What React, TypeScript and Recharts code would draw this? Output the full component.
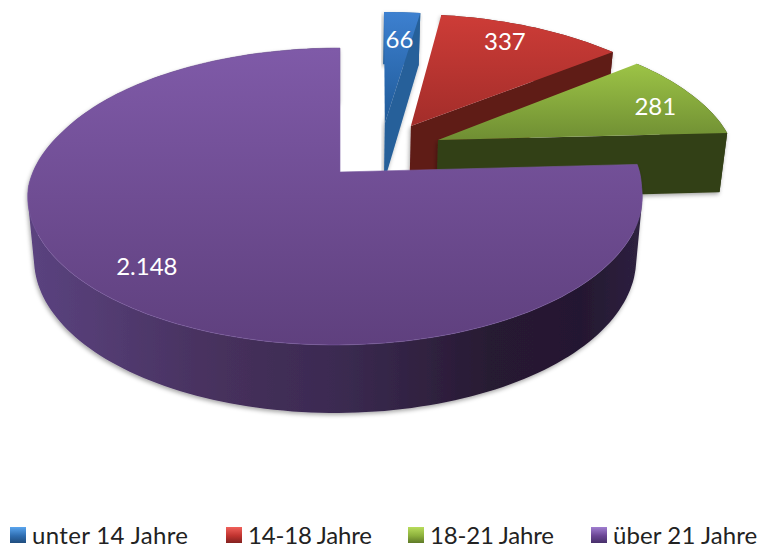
import { PieChart, Pie, Legend } from "recharts"

const AGE_GROUPS = ["unter 14 Jahre", "14-18 Jahre", "18-21 Jahre", "über 21 Jahre"]
const COUNTS = [66, 337, 281, 2148]
const COUNT_LABELS = ["66", "337", "281", "2.148"]

const chartData = AGE_GROUPS.map((name, i) => ({ name, value: COUNTS[i], label: COUNT_LABELS[i] }))

// look of each slice: top face gradient, wall colour(s), legend marker
const TOP_FACE = [
  ["#3d80d0", "#1f5a98"],
  ["#cd3c37", "#a32d2a"],
  ["#9dc446", "#6f8e33"],
  ["#7f5aa8", "#5f407e"],
]
const WALL_FACE = ["#27609a", "#5e1b19", "#333f17", "#3a2a50"]
const MARKER = [
  ["#5aa5ee", "#2f6db0", "#204d7e"],
  ["#f0605a", "#c0332f", "#832220"],
  ["#b8dc5c", "#8cb03c", "#5f7a28"],
  ["#a07ed0", "#6a4594", "#47306a"],
]
const LEGEND_SPACING = [0.35, -0.2, -0.2, 0.1]

// slice explosion on the pie plane (unit = radius), plus fine-tuning in px
const EXPLODE = [
  [0.177, -0.355],
  [0.26, -0.336],
  [0.3346, -0.2299],
  [0, 0],
]
const APEX_SHIFT = [-6, -4, 0, 0]
const LABEL_RADIUS = [0.74, 0.8, 0.85, 0.82]
const LABEL_SHIFT = [
  [0, 0],
  [-6, -4],
  [0, 4],
  [-3, -2],
]

// perspective of the tilted pie
const TILT = 0.475
const PERSP = 0.165
const RAD = Math.PI / 180

type Pt = { x: number; y: number; w: number }

function project(cx: number, cy: number, r: number, u: number, v: number): Pt {
  const w = 1 - PERSP * v
  return { x: cx + (r * u) / w, y: cy + (r * TILT * v) / w, w }
}

// bottom rim sits lower and a bit narrower than the top rim
function drop(cx: number, p: Pt): Pt {
  return { x: cx + (p.x - cx) * 0.98, y: p.y + 68 - 41 * (p.w - 0.835), w: p.w }
}

function toPath(pts: { x: number; y: number }[]) {
  return pts.map((p, i) => `${i ? "L" : "M"}${p.x.toFixed(1)} ${p.y.toFixed(1)}`).join(" ") + " Z"
}

// outer wall as quads, all wound the same way so overlaps don't cancel out
function wallPath(top: Pt[], bottom: Pt[]) {
  let d = ""
  for (let i = 0; i < top.length - 1; i++) {
    const quad = [top[i], top[i + 1], bottom[i + 1], bottom[i]]
    let area = 0
    quad.forEach((p, j) => {
      const q = quad[(j + 1) % 4]
      area += p.x * q.y - q.x * p.y
    })
    d += toPath(area < 0 ? [...quad].reverse() : quad) + " "
  }
  return d
}

function Wedge(props: any) {
  const { cx, cy, outerRadius, startAngle, endAngle, index } = props
  const [ox, oy] = EXPLODE[index]
  const isBig = index === 3

  const rim: Pt[] = []
  const from = 90 - startAngle
  const to = 90 - endAngle
  const steps = Math.max(2, Math.ceil((to - from) / 1.5))
  for (let i = 0; i <= steps; i++) {
    const a = (from + ((to - from) * i) / steps) * RAD
    const u = Math.sin(a)
    const v = oy - Math.cos(a)
    const p = project(cx, cy, outerRadius, ox + u, v)
    // the big slice's near half sits slightly left of its apex
    if (isBig) p.x -= (5 + u) * Math.min(1, Math.max(0, (v + 0.3) / 0.4))
    rim.push(p)
  }
  const apex = project(cx, cy, outerRadius, ox, oy)
  apex.x += APEX_SHIFT[index]

  const rimBottom = rim.map((p) => drop(cx, p))
  const apexBottom = drop(cx, apex)
  const last = rim[rim.length - 1]
  const lastBottom = rimBottom[rimBottom.length - 1]

  return (
    <g>
      <defs>
        <linearGradient id={`top-${index}`} x1="0" y1="0" x2="0" y2="1">
          <stop offset="0%" stopColor={TOP_FACE[index][0]} />
          <stop offset="100%" stopColor={TOP_FACE[index][1]} />
        </linearGradient>
        <linearGradient id="wall-big" gradientUnits="userSpaceOnUse" x1="27" y1="0" x2="642" y2="0">
          <stop offset="0%" stopColor="#5b4380" />
          <stop offset="32%" stopColor="#46305c" />
          <stop offset="52%" stopColor="#3a2a50" />
          <stop offset="75%" stopColor="#281a33" />
          <stop offset="90%" stopColor="#241830" />
          <stop offset="100%" stopColor="#2e2140" />
        </linearGradient>
        <filter id={`shadow-${index}`} x="-5%" y="-5%" width="110%" height="115%">
          <feDropShadow dx="-1" dy="2" stdDeviation="2" floodColor="#000" floodOpacity="0.35" />
        </filter>
      </defs>
      <g filter={`url(#shadow-${index})`}>
        <path d={wallPath(rim, rimBottom)} fill={isBig ? "url(#wall-big)" : WALL_FACE[index]} />
        <path d={toPath([apex, last, lastBottom, apexBottom])} fill={WALL_FACE[index]} />
      </g>
      <path d={toPath([apex, ...rim])} fill={`url(#top-${index})`} />
      {isBig && <path d={toPath([apex, ...rim])} fill="none" stroke="#7a5aa0" strokeWidth={1} strokeOpacity={0.6} />}
    </g>
  )
}

function sliceLabel(props: any) {
  const { cx, cy, outerRadius, midAngle, index } = props
  const [ox, oy] = EXPLODE[index]
  const a = (90 - midAngle) * RAD
  const r = LABEL_RADIUS[index]
  const p = project(cx, cy, outerRadius, ox + r * Math.sin(a), oy - r * Math.cos(a))
  return (
    <text
      x={p.x + LABEL_SHIFT[index][0]}
      y={p.y + LABEL_SHIFT[index][1]}
      fill="#fff"
      fontSize={24}
      fontFamily="Lato"
      textAnchor="middle"
      dominantBaseline="central"
    >
      {COUNT_LABELS[index]}
    </text>
  )
}

function LegendRow({ payload }: any) {
  const left = [10, 226, 408, 591]
  return (
    <div style={{ position: "relative", height: 24, width: 757, fontFamily: "Lato", fontSize: 24, color: "#222" }}>
      {(payload ?? []).map((entry: any) => {
        const i = AGE_GROUPS.indexOf(entry.value)
        return (
          <div key={entry.value} style={{ position: "absolute", left: left[i], top: 0, whiteSpace: "nowrap", lineHeight: "24px" }}>
            <span
              style={{
                position: "absolute",
                left: 0,
                top: 4,
                width: 16,
                height: 16,
                background: `linear-gradient(to bottom, ${MARKER[i][0]}, ${MARKER[i][1]} 55%, ${MARKER[i][2]})`,
              }}
            />
            <span style={{ marginLeft: 22, letterSpacing: LEGEND_SPACING[i] }}>{entry.value}</span>
          </div>
        )
      })}
    </div>
  )
}

export default function App() {
  return (
    <div style={{ position: "absolute", left: 0, top: 0, width: 757, height: 545, overflow: "hidden", background: "#fff" }}>
      <PieChart width={757} height={545} margin={{ top: 0, right: 0, bottom: 0, left: 0 }}>
        <Pie
          data={chartData}
          dataKey="value"
          nameKey="name"
          cx={340}
          cy={172}
          outerRadius={304}
          startAngle={90}
          endAngle={-270}
          stroke="none"
          fill={TOP_FACE[0][0]}
          shape={Wedge}
          label={sliceLabel}
          labelLine={false}
          isAnimationActive={false}
        />
        <Legend content={LegendRow} wrapperStyle={{ position: "absolute", left: 0, top: 523, width: 757 }} />
      </PieChart>
    </div>
  )
}
